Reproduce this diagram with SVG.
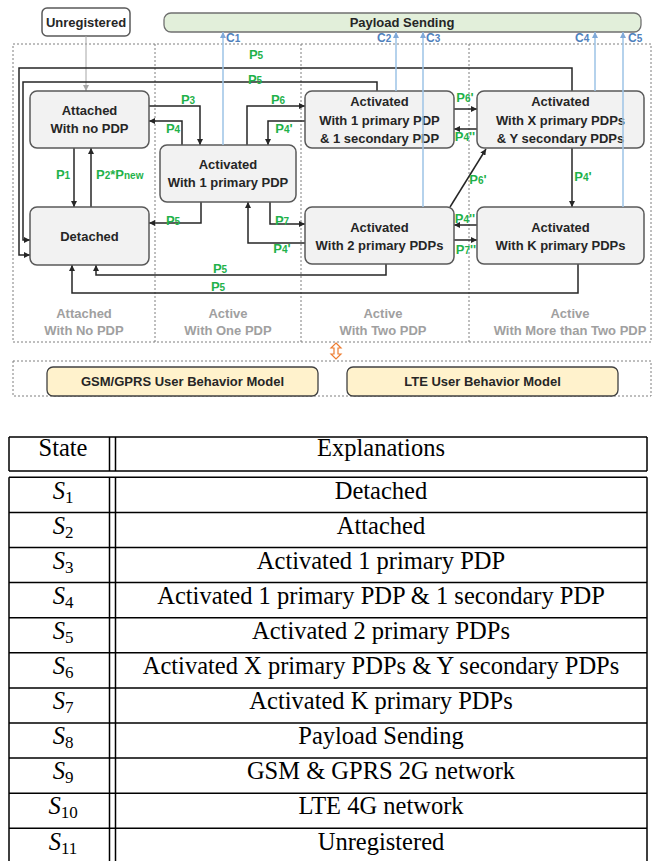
<svg xmlns="http://www.w3.org/2000/svg" width="652" height="861" viewBox="0 0 652 861">
<style>
.node{fill:#f2f2f2;stroke:#595959;stroke-width:1.5}
.nt{font-family:"Liberation Sans",Arial,sans-serif;font-weight:bold;font-size:13px;fill:#262626;text-anchor:middle}
.col{font-family:"Liberation Sans",Arial,sans-serif;font-weight:bold;font-size:13px;fill:#a0a0a0;text-anchor:middle}
.dot{fill:none;stroke:#7f7f7f;stroke-width:1;stroke-dasharray:2 2}
.cn{fill:none;stroke:#262626;stroke-width:1.5;marker-end:url(#ah)}
.bl{fill:none;stroke:#9dc3e6;stroke-width:1.5;marker-end:url(#bh)}
.pl{font-family:"Liberation Sans",Arial,sans-serif;font-weight:bold;font-size:13px;fill:#1fb24a;text-anchor:middle}
.pls{text-anchor:start}
.cl{font-family:"Liberation Sans",Arial,sans-serif;font-weight:bold;font-size:12px;fill:#4f81bd}
.sub{font-size:10px}
.tb{stroke:#000;stroke-width:1.5;fill:none}
.tt{font-family:"Liberation Serif","Times New Roman",serif;font-size:24.5px;fill:#000;text-anchor:middle}
.si{font-style:italic}
.ss{font-size:17px;font-style:normal}
.mb{fill:#fff2cc;stroke:#404040;stroke-width:1.3}
</style>
<defs>
<marker id="ah" markerWidth="6" markerHeight="6" refX="6" refY="3" orient="auto" markerUnits="userSpaceOnUse"><path d="M0,0 L6,3 L0,6 z" fill="#262626"/></marker>
<marker id="bh" markerWidth="6" markerHeight="6" refX="6" refY="3" orient="auto" markerUnits="userSpaceOnUse"><path d="M0,0 L6,3 L0,6 z" fill="#7fa9d9"/></marker>
<marker id="gh" markerWidth="6" markerHeight="6" refX="6" refY="3" orient="auto" markerUnits="userSpaceOnUse"><path d="M0,0 L6,3 L0,6 z" fill="#a6a6a6"/></marker>
</defs>
<rect width="652" height="861" fill="#fff"/>

<g id="columns">
<rect class="dot" x="13" y="44" width="638" height="298"/>
<line class="dot" x1="155" y1="44" x2="155" y2="342"/>
<line class="dot" x1="301" y1="44" x2="301" y2="342"/>
<line class="dot" x1="469" y1="44" x2="469" y2="342"/>
<text class="col" x="84" y="318">Attached</text><text class="col" x="84" y="335">With No PDP</text>
<text class="col" x="228" y="318">Active</text><text class="col" x="228" y="335">With One PDP</text>
<text class="col" x="383" y="318">Active</text><text class="col" x="383" y="335">With Two PDP</text>
<text class="col" x="570" y="318">Active</text><text class="col" x="570" y="335">With More than Two PDP</text>
</g>

<g id="unregistered">
<rect x="42" y="8" width="88" height="28" rx="5" fill="#fff" stroke="#595959" stroke-width="1.5"/>
<text class="nt" x="86" y="27">Unregistered</text>
</g>
<g id="payload">
<rect x="164" y="13" width="477" height="19" rx="7" fill="#e2efda" stroke="#707070" stroke-width="1.3"/>
<text class="nt" x="402" y="27">Payload Sending</text>
</g>

<g id="connectors">
<path d="M86,36 V91" fill="none" stroke="#a6a6a6" stroke-width="1" marker-end="url(#gh)"/>
<path class="cn" d="M572,91 V68 H19 V255 H30"/>
<path class="cn" d="M377,91 V82 H23 V240 H30"/>
<path class="cn" d="M74,148 V207"/>
<path class="cn" d="M91,207 V148"/>
<path class="cn" d="M149,106 H200 V145"/>
<path class="cn" d="M182,145 V121 H149"/>
<path class="cn" d="M247,145 V106 H305"/>
<path class="cn" d="M305,121 H268 V145"/>
<path class="cn" d="M201,202 V223 H149"/>
<path class="cn" d="M270,202 V224 H305"/>
<path class="cn" d="M305,243 H248 V202"/>
<path class="cn" d="M386,264 V275 H96 V265"/>
<path class="cn" d="M578,264 V293 H72 V265"/>
<path class="cn" d="M454,109 H477"/>
<path class="cn" d="M477,129 H454"/>
<path class="cn" d="M450,207 L486,149"/>
<path class="cn" d="M572,148 V207"/>
<path class="cn" d="M477,225 H454"/>
<path class="cn" d="M454,240 H477"/>
</g>

<g id="attached"><rect class="node" x="30" y="91" width="119" height="57" rx="7"/>
<text class="nt" x="89.5" y="115">Attached</text><text class="nt" x="89.5" y="133">With no PDP</text></g>
<g id="detached"><rect class="node" x="30" y="207" width="119" height="58" rx="7"/>
<text class="nt" x="89.5" y="241">Detached</text></g>
<g id="act1"><rect class="node" x="160" y="145" width="136" height="57" rx="7"/>
<text class="nt" x="228" y="169">Activated</text><text class="nt" x="228" y="187">With 1 primary PDP</text></g>
<g id="act11"><rect class="node" x="305" y="91" width="149" height="57" rx="7"/>
<text class="nt" x="379.5" y="106">Activated</text><text class="nt" x="379.5" y="125">With 1 primary PDP</text><text class="nt" x="379.5" y="143">&amp; 1 secondary PDP</text></g>
<g id="actxy"><rect class="node" x="477" y="91" width="167" height="57" rx="7"/>
<text class="nt" x="560.5" y="106">Activated</text><text class="nt" x="560.5" y="125">With X primary PDPs</text><text class="nt" x="560.5" y="143">&amp; Y secondary PDPs</text></g>
<g id="act2"><rect class="node" x="305" y="207" width="149" height="57" rx="7"/>
<text class="nt" x="379.5" y="232">Activated</text><text class="nt" x="379.5" y="250">With 2 primary PDPs</text></g>
<g id="actk"><rect class="node" x="477" y="207" width="167" height="57" rx="7"/>
<text class="nt" x="560.5" y="232">Activated</text><text class="nt" x="560.5" y="250">With K primary PDPs</text></g>

<g id="payload-links">
<path class="bl" d="M223,145 V32"/>
<path class="bl" d="M396,91 V32"/>
<path class="bl" d="M423,207 V32"/>
<path class="bl" d="M595,91 V32"/>
<path class="bl" d="M623,207 V32"/>
<text class="cl" x="226" y="42">C<tspan class="sub">1</tspan></text>
<text class="cl" x="377" y="42">C<tspan class="sub">2</tspan></text>
<text class="cl" x="426" y="42">C<tspan class="sub">3</tspan></text>
<text class="cl" x="575" y="42">C<tspan class="sub">4</tspan></text>
<text class="cl" x="628" y="42">C<tspan class="sub">5</tspan></text>
</g>

<g id="labels">
<text class="pl" x="256" y="59">P<tspan class="sub">5</tspan></text>
<text class="pl" x="255" y="84">P<tspan class="sub">5</tspan></text>
<text class="pl" x="63" y="179">P<tspan class="sub">1</tspan></text>
<text class="pl pls" x="96" y="179">P<tspan class="sub">2</tspan>*P<tspan class="sub">new</tspan></text>
<text class="pl" x="188" y="104">P<tspan class="sub">3</tspan></text>
<text class="pl" x="173" y="133">P<tspan class="sub">4</tspan></text>
<text class="pl" x="278" y="104">P<tspan class="sub">6</tspan></text>
<text class="pl" x="284" y="133">P<tspan class="sub">4</tspan>'</text>
<text class="pl" x="173" y="225">P<tspan class="sub">5</tspan></text>
<text class="pl" x="282" y="225">P<tspan class="sub">7</tspan></text>
<text class="pl" x="282" y="253">P<tspan class="sub">4</tspan>'</text>
<text class="pl" x="220" y="273">P<tspan class="sub">5</tspan></text>
<text class="pl" x="218" y="291">P<tspan class="sub">5</tspan></text>
<text class="pl" x="465" y="102">P<tspan class="sub">6</tspan>'</text>
<text class="pl" x="465" y="141">P<tspan class="sub">4</tspan>''</text>
<text class="pl" x="478" y="184">P<tspan class="sub">6</tspan>'</text>
<text class="pl" x="583" y="181">P<tspan class="sub">4</tspan>'</text>
<text class="pl" x="465" y="223">P<tspan class="sub">4</tspan>''</text>
<text class="pl" x="466" y="254">P<tspan class="sub">7</tspan>''</text>
</g>

<g id="swap">
<path d="M336,343 L341,348 L338,348 L338,354 L341,354 L336,359 L331,354 L334,354 L334,348 L331,348 Z" fill="#fff" stroke="#ed7d31" stroke-width="1.2"/>
</g>

<g id="models">
<rect class="dot" x="13" y="361" width="638" height="35"/>
<g id="gsm"><rect class="mb" x="47" y="367" width="271" height="29" rx="6"/>
<text class="nt" x="182.5" y="386">GSM/GPRS User Behavior Model</text></g>
<g id="lte"><rect class="mb" x="347" y="367" width="271" height="29" rx="6"/>
<text class="nt" x="482.5" y="386">LTE User Behavior Model</text></g>
</g>

<g id="table">
<path class="tb" d="M9,437 H647 M9,471 H647 M9,477.3 H647 M9,512.4 H647 M9,547.5 H647 M9,582.6 H647 M9,617.7 H647 M9,652.8 H647 M9,687.9 H647 M9,723 H647 M9,758.1 H647 M9,793.2 H647 M9,828.3 H647"/>
<path class="tb" d="M9,437 V471 M109.5,437 V471 M115.5,437 V471 M647,437 V471 M9,477.3 V861 M109.5,477.3 V861 M115.5,477.3 V861 M647,477.3 V861"/>
<text class="tt" x="63" y="456">State</text>
<text class="tt" x="381" y="456">Explanations</text>
<text class="tt" x="63" y="498.5"><tspan class="si">S</tspan><tspan class="ss" dy="4">1</tspan></text>
<text class="tt" x="381" y="498.5">Detached</text>
<text class="tt" x="63" y="533.6"><tspan class="si">S</tspan><tspan class="ss" dy="4">2</tspan></text>
<text class="tt" x="381" y="533.6">Attached</text>
<text class="tt" x="63" y="568.7"><tspan class="si">S</tspan><tspan class="ss" dy="4">3</tspan></text>
<text class="tt" x="381" y="568.7">Activated 1 primary PDP</text>
<text class="tt" x="63" y="603.8"><tspan class="si">S</tspan><tspan class="ss" dy="4">4</tspan></text>
<text class="tt" x="381" y="603.8">Activated 1 primary PDP &amp; 1 secondary PDP</text>
<text class="tt" x="63" y="638.9"><tspan class="si">S</tspan><tspan class="ss" dy="4">5</tspan></text>
<text class="tt" x="381" y="638.9">Activated 2 primary PDPs</text>
<text class="tt" x="63" y="674"><tspan class="si">S</tspan><tspan class="ss" dy="4">6</tspan></text>
<text class="tt" x="381" y="674">Activated X primary PDPs &amp; Y secondary PDPs</text>
<text class="tt" x="63" y="709.1"><tspan class="si">S</tspan><tspan class="ss" dy="4">7</tspan></text>
<text class="tt" x="381" y="709.1">Activated K primary PDPs</text>
<text class="tt" x="63" y="744.2"><tspan class="si">S</tspan><tspan class="ss" dy="4">8</tspan></text>
<text class="tt" x="381" y="744.2">Payload Sending</text>
<text class="tt" x="63" y="779.3"><tspan class="si">S</tspan><tspan class="ss" dy="4">9</tspan></text>
<text class="tt" x="381" y="779.3">GSM &amp; GPRS 2G network</text>
<text class="tt" x="63" y="814.4"><tspan class="si">S</tspan><tspan class="ss" dy="4">10</tspan></text>
<text class="tt" x="381" y="814.4">LTE 4G network</text>
<text class="tt" x="63" y="849.5"><tspan class="si">S</tspan><tspan class="ss" dy="4">11</tspan></text>
<text class="tt" x="381" y="849.5">Unregistered</text>
</g>
</svg>
